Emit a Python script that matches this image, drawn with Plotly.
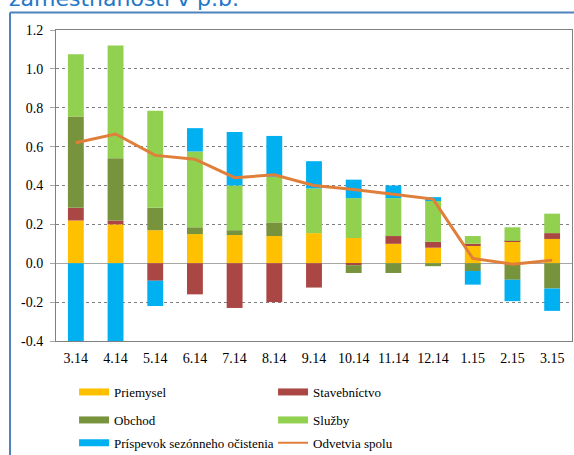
import plotly.graph_objects as go

# mesiace a príspevky odvetví k rastu zamestnanosti (p.b.)
months = ['3.14', '4.14', '5.14', '6.14', '7.14', '8.14', '9.14',
          '10.14', '11.14', '12.14', '1.15', '2.15', '3.15']
priemysel = [0.22, 0.20, 0.17, 0.15, 0.145, 0.14, 0.155, 0.13, 0.10, 0.08, 0.09, 0.11, 0.125]
stavebnictvo = [0.065, 0.02, -0.09, -0.16, -0.23, -0.20, -0.125, -0.01, 0.04, 0.03, 0.01, 0.005, 0.03]
obchod = [0.47, 0.32, 0.115, 0.035, 0.025, 0.07, 0.0, -0.04, -0.05, -0.015, -0.04, -0.085, -0.13]
sluzby = [0.32, 0.58, 0.50, 0.39, 0.23, 0.235, 0.23, 0.205, 0.195, 0.21, 0.04, 0.07, 0.10]
sezonne = [-0.46, -0.45, -0.13, 0.12, 0.275, 0.21, 0.14, 0.095, 0.065, 0.02, -0.07, -0.11, -0.115]
spolu = [0.62, 0.665, 0.555, 0.535, 0.44, 0.455, 0.40, 0.38, 0.355, 0.33, 0.025, -0.005, 0.015]

y_ticks = [-0.4, -0.2, 0.0, 0.2, 0.4, 0.6, 0.8, 1.0, 1.2]

series = [
    ('Priemysel', priemysel, '#FFC000'),
    ('Stavebníctvo', stavebnictvo, '#AA4643'),
    ('Obchod', obchod, '#77933C'),
    ('Služby', sluzby, '#92D050'),
    ('Príspevok sezónneho očistenia', sezonne, '#00B0F0'),
]
line_color = '#E07F3A'
frame_blue = '#4F81BD'
serif = 'Liberation Serif, Times New Roman, serif'

# každý riadok legendy je samostatná legenda (2 položky v riadku)
legend_rows = ['legend', 'legend', 'legend2', 'legend2', 'legend3', 'legend3']

fig = go.Figure()

for name, values, color in series:
    fig.add_trace(go.Bar(
        x=months, y=values, name=name,
        marker=dict(color=color, line=dict(width=0)),
        legendgroup=name, showlegend=False,
    ))

fig.add_trace(go.Scatter(
    x=months, y=spolu, mode='lines', name='Odvetvia spolu',
    line=dict(color=line_color, width=3),
    legendgroup='spolu', showlegend=False,
))

# legenda s plochými pásikmi ako v pôvodnom grafe
for i, (name, values, color) in enumerate(series):
    fig.add_trace(go.Scatter(
        x=[None], y=[None], mode='lines', name=name,
        line=dict(color=color, width=7), legendgroup=name,
        legend=legend_rows[i],
    ))
fig.add_trace(go.Scatter(
    x=[None], y=[None], mode='lines', name='Odvetvia spolu',
    line=dict(color=line_color, width=2), legendgroup='spolu',
    legend=legend_rows[5],
))

legend_style = dict(
    orientation='h', x=0.035, xanchor='left', yanchor='middle',
    entrywidth=154, entrywidthmode='pixels', itemwidth=30,
    font=dict(family=serif, size=13), bgcolor='rgba(0,0,0,0)',
    traceorder='normal',
)

fig.update_layout(
    width=574, height=455,
    margin=dict(l=56, r=2, t=29.5, b=114, autoexpand=False),
    paper_bgcolor='white', plot_bgcolor='white',
    barmode='relative', bargap=0.6,
    font=dict(family=serif, size=14, color='#000000'),
    xaxis=dict(
        type='category', categoryorder='array', categoryarray=months,
        showline=True, linecolor='#808080', linewidth=1, mirror=True,
        ticks='', showgrid=False, zeroline=False, ticklabelstandoff=4,
        tickfont=dict(family=serif, size=14),
    ),
    xaxis2=dict(
        overlaying='x', anchor='free', position=0.25, side='bottom',
        range=[-0.5, len(months) - 0.5],
        tickvals=[i + 0.5 for i in range(len(months) - 1)],
        ticks='outside', ticklen=4, tickcolor='#a6a6a6',
        showticklabels=False, showgrid=False, zeroline=False, showline=False,
    ),
    yaxis=dict(
        range=[-0.4, 1.2], tickvals=y_ticks,
        ticktext=[f'{v:.1f}' for v in y_ticks],
        showline=True, linecolor='#808080', linewidth=1, mirror=True,
        ticks='outside', ticklen=5, tickcolor='#a6a6a6', ticklabelstandoff=4,
        showgrid=True, gridcolor='#7f7f7f', griddash='dot', gridwidth=1,
        zeroline=True, zerolinecolor='#a6a6a6', zerolinewidth=1,
        tickfont=dict(family=serif, size=14),
    ),
    legend=dict(legend_style, y=-0.164),
    legend2=dict(legend_style, y=-0.254),
    legend3=dict(legend_style, y=-0.327),
    shapes=[
        dict(type='line', xref='paper', yref='paper',
             x0=-0.0891, x1=1.01, y0=1.0562, y1=1.0562,
             line=dict(color=frame_blue, width=2)),
        dict(type='line', xref='paper', yref='paper',
             x0=-0.0891, x1=-0.0891, y0=1.0562, y1=-0.37,
             line=dict(color=frame_blue, width=2)),
    ],
    annotations=[
        dict(text='zamestnanosti v p.b.', xref='paper', yref='paper',
             x=-0.095, y=1.056, xanchor='left', yanchor='bottom',
             showarrow=False,
             font=dict(family='DejaVu Sans', size=22, color='#1F78C8')),
    ],
)

fig.write_html('out.html', config={'displayModeBar': False},
               post_script="document.body.style.margin='0';")
